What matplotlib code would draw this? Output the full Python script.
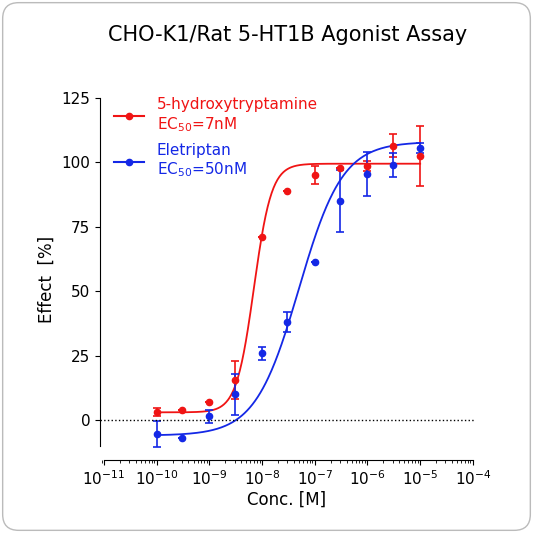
import numpy as np
import matplotlib.pyplot as plt
from matplotlib.patches import FancyBboxPatch
from matplotlib.ticker import LogLocator, NullFormatter

conc = np.array([1e-10, 3e-10, 1e-9, 3e-9, 1e-8, 3e-8, 1e-7, 3e-7, 1e-6, 3e-6, 1e-5])
ht_y = [3, 4, 7, 15.5, 71, 89, 95, 98, 98.5, 106.5, 102.5]
ht_err = [1.5, 0, 0, 7.5, 0, 0, 3.5, 0, 2, 4.5, 11.5]
ele_y = [-5.5, -7, 1.5, 10, 26, 38, 61.5, 85, 95.5, 99, 105.5]
ele_err = [5, 0, 2.5, 8, 2.5, 4, 0, 12, 8.5, 4.5, 2]

# fitted 4PL parameters: bottom, top, ec50, hill
ht_fit = (3, 99.5, 7e-9, 2.6)
ele_fit = (-6, 108, 5e-8, 1.05)

red = '#f01414'
blue = '#1428e6'

def fourpl(x, bottom, top, ec50, hill):
    return bottom + (top - bottom) / (1 + (ec50 / x) ** hill)

fig = plt.figure(figsize=(5.33, 5.33), dpi=100)
border = FancyBboxPatch((0.005, 0.005), 0.99, 0.99, boxstyle='round,pad=0,rounding_size=0.03',
                        transform=fig.transFigure, fc='white', ec='#bbbbbb', lw=1, zorder=-10)
fig.patches.append(border)
ax = fig.add_axes([100 / 533, 73 / 533, 374 / 533, 362 / 533])
ax.patch.set_alpha(0)

xs = np.logspace(-10, -5, 400)
for y, err, fit, c in [(ht_y, ht_err, ht_fit, red), (ele_y, ele_err, ele_fit, blue)]:
    ax.plot(xs, fourpl(xs, *fit), color=c, lw=1.3)
    ax.errorbar(conc, y, yerr=err, fmt='o', color=c, ms=4.5, capsize=3, elinewidth=1.2, capthick=1.2)

ax.axhline(0, color='black', ls=':', lw=1)
ax.set_xscale('log')
ax.set_xlim(8.4e-12, 1.05e-4)
ax.set_ylim(-15.5, 125)
ax.spines['top'].set_visible(False)
ax.spines['right'].set_visible(False)
ax.spines['left'].set_bounds(-10, 125)
ax.spines['bottom'].set_bounds(1e-11, 1e-4)
ax.set_yticks([0, 25, 50, 75, 100, 125])
ax.xaxis.set_major_locator(LogLocator(base=10, numticks=20))
ax.xaxis.set_minor_locator(LogLocator(base=10, subs=np.arange(2, 10), numticks=100))
ax.xaxis.set_minor_formatter(NullFormatter())
ax.tick_params(labelsize=11)
ax.set_xlabel('Conc. [M]', fontsize=12, labelpad=2)
ax.set_ylabel('Effect  [%]', fontsize=12)

h1, = ax.plot([], [], 'o-', color=red, ms=4.5, label='5-hydroxytryptamine\nEC$_{50}$=7nM')
h2, = ax.plot([], [], 'o-', color=blue, ms=4.5, label='Eletriptan\nEC$_{50}$=50nM')
leg = ax.legend(handles=[h1, h2], loc='upper left', bbox_to_anchor=(0.0, 1.04), frameon=False,
                fontsize=11, handlelength=2, labelspacing=0.6)
for t, c in zip(leg.get_texts(), [red, blue]):
    t.set_color(c)

fig.text(0.54, 0.935, 'CHO-K1/Rat 5-HT1B Agonist Assay', ha='center', va='center', fontsize=15)
fig.savefig('out.png', dpi=100)
